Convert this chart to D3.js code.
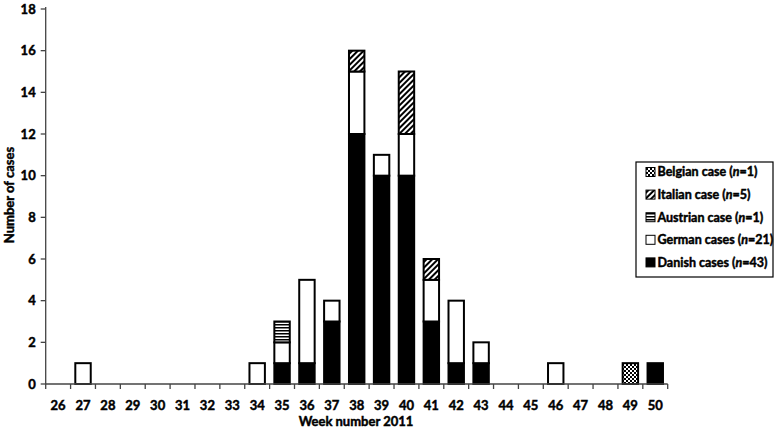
<!DOCTYPE html>
<html><head><meta charset="utf-8">
<script src="https://cdn.jsdelivr.net/npm/d3@7"></script>
<style>body{margin:0;background:#fff}svg{display:block}text{font-family:Lato,"Open Sans",sans-serif;font-weight:bold;stroke:#000;stroke-width:0.45px}</style>
</head><body><svg id="c" width="777" height="429"></svg>
<script>
const weeks = ["26","27","28","29","30","31","32","33","34","35","36","37","38","39","40","41","42","43","44","45","46","47","48","49","50"];
const danish   = [0,0,0,0,0,0,0,0,0,1,1,3,12,10,10,3,1,1,0,0,0,0,0,0,1];
const german   = [0,1,0,0,0,0,0,0,1,1,4,1,3,1,2,2,3,1,0,0,1,0,0,0,0];
const austrian = [0,0,0,0,0,0,0,0,0,1,0,0,0,0,0,0,0,0,0,0,0,0,0,0,0];
const italian  = [0,0,0,0,0,0,0,0,0,0,0,0,1,0,3,1,0,0,0,0,0,0,0,0,0];
const belgian  = [0,0,0,0,0,0,0,0,0,0,0,0,0,0,0,0,0,0,0,0,0,0,0,1,0];
const seriesNames = ["Danish","German","Austrian","Italian","Belgian"];
const legendLabels = [["Belgian case (","n","=1)"],["Italian case (","n","=5)"],["Austrian case (","n","=1)"],["German cases (","n","=21)"],["Danish cases (","n","=43)"]];
const yTicks = [0,2,4,6,8,10,12,14,16,18];

const svg = d3.select("#c");
const defs = svg.append("defs");
const pIt = defs.append("pattern").attr("id","pIt").attr("patternUnits","userSpaceOnUse").attr("width",4).attr("height",4).attr("patternTransform","rotate(45)");
pIt.append("rect").attr("width",4).attr("height",4).attr("fill","#fff");
pIt.append("rect").attr("width",2).attr("height",4).attr("fill","#000");
const pAu = defs.append("pattern").attr("id","pAu").attr("patternUnits","userSpaceOnUse").attr("width",3).attr("height",3);
pAu.append("rect").attr("width",3).attr("height",3).attr("fill","#fff");
pAu.append("rect").attr("width",3).attr("height",1.5).attr("fill","#000");
const pBe = defs.append("pattern").attr("id","pBe").attr("patternUnits","userSpaceOnUse").attr("width",4).attr("height",4);
pBe.append("rect").attr("width",4).attr("height",4).attr("fill","#000");
pBe.append("rect").attr("x",0).attr("y",0).attr("width",2).attr("height",2).attr("fill","#fff");
pBe.append("rect").attr("x",2).attr("y",2).attr("width",2).attr("height",2).attr("fill","#fff");
const fills = {Danish:"#000",German:"#fff",Austrian:"url(#pAu)",Italian:"url(#pIt)",Belgian:"url(#pBe)"};

const x0 = 45.7, x1 = 667.7, yb = 384, yt = 9;
const xb = d3.scaleBand().domain(weeks).range([x0,x1]);
const y = d3.scaleLinear().domain([0,18]).range([yb,yt]);

const table = weeks.map((w,i)=>({week:w,Danish:danish[i],German:german[i],Austrian:austrian[i],Italian:italian[i],Belgian:belgian[i]}));
const stack = d3.stack().keys(seriesNames)(table);

const g = svg.append("g");
stack.forEach(s=>{
  g.selectAll(null).data(s.filter(d=>d[1]>d[0])).enter().append("rect")
    .attr("x",d=>xb(d.data.week)+xb.bandwidth()*0.19)
    .attr("width",xb.bandwidth()*0.62)
    .attr("y",d=>y(d[1]))
    .attr("height",d=>y(d[0])-y(d[1]))
    .attr("fill",fills[s.key]).attr("stroke","#000").attr("stroke-width",2);
});

const axColor="#444";
svg.append("line").attr("x1",x0).attr("x2",x0).attr("y1",yt-2).attr("y2",yb).attr("stroke",axColor).attr("stroke-width",1.3);
svg.append("line").attr("x1",x0).attr("x2",x1).attr("y1",yb).attr("y2",yb).attr("stroke",axColor).attr("stroke-width",1.3);
yTicks.forEach(t=>{
  svg.append("line").attr("x1",x0-5).attr("x2",x0).attr("y1",y(t)).attr("y2",y(t)).attr("stroke",axColor).attr("stroke-width",1.3);
  svg.append("text").attr("x",x0-10).attr("y",y(t)).attr("dy","0.35em").attr("text-anchor","end").attr("font-size",13).text(t);
});
weeks.forEach((w,i)=>{
  const bx = xb(w);
  svg.append("line").attr("x1",bx).attr("x2",bx).attr("y1",yb).attr("y2",yb+5).attr("stroke",axColor).attr("stroke-width",1.3);
  svg.append("text").attr("x",bx+xb.bandwidth()/2).attr("y",405).attr("dy","0.35em").attr("text-anchor","middle").attr("font-size",13).text(w);
});
svg.append("line").attr("x1",x1).attr("x2",x1).attr("y1",yb).attr("y2",yb+5).attr("stroke",axColor).attr("stroke-width",1.3);

svg.append("text").attr("x",356).attr("y",421).attr("dy","0.35em").attr("text-anchor","middle").attr("font-size",13).text("Week number 2011");
svg.append("text").attr("transform","translate(9,195) rotate(-90)").attr("dy","0.35em").attr("text-anchor","middle").attr("font-size",13).text("Number of cases");

const lg = svg.append("g");
lg.append("rect").attr("x",636).attr("y",162).attr("width",137).attr("height",115).attr("fill","#fff").attr("stroke","#000").attr("stroke-width",1.2);
const legKeys = ["Belgian","Italian","Austrian","German","Danish"];
legKeys.forEach((k,i)=>{
  const cy = 172 + i*22.6;
  lg.append("rect").attr("x",646).attr("y",cy-4.5).attr("width",9).attr("height",9).attr("fill",fills[k]).attr("stroke","#000").attr("stroke-width",1);
  const t = lg.append("text").attr("x",657.5).attr("y",cy).attr("dy","0.35em").attr("font-size",12.5);
  t.append("tspan").text(legendLabels[i][0]);
  t.append("tspan").attr("font-style","italic").text(legendLabels[i][1]);
  t.append("tspan").text(legendLabels[i][2]);
});
</script></body></html>
